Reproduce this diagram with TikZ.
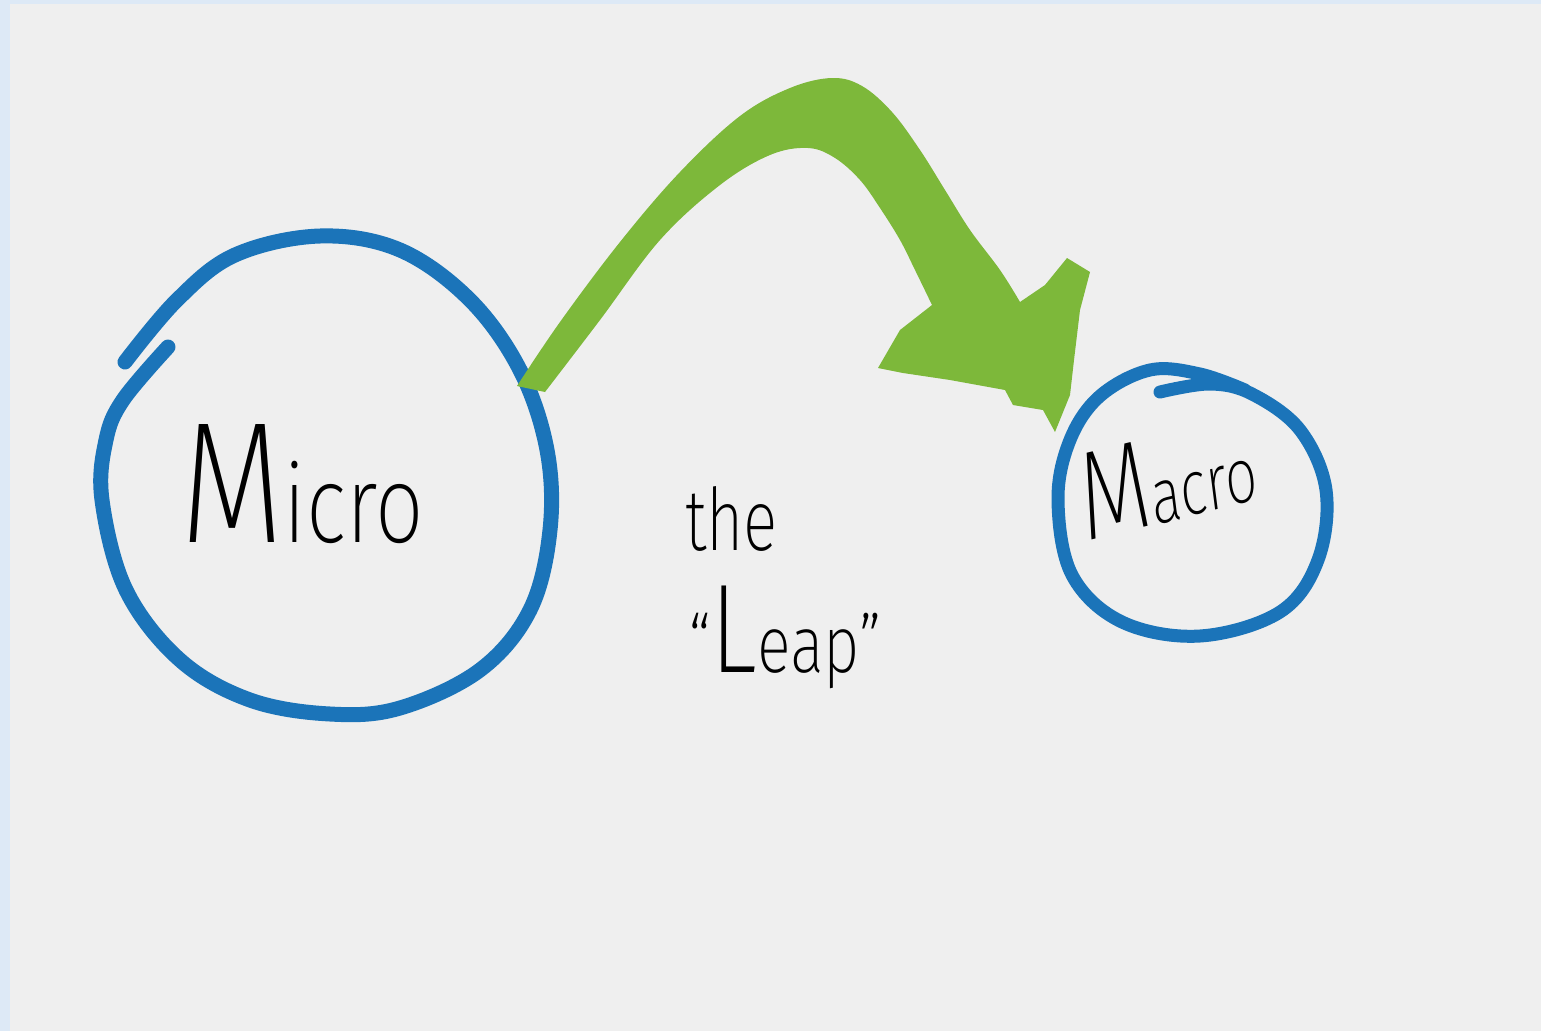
\documentclass[tikz,border=0pt]{standalone}
\usepackage{fontspec}
\newfontfamily\handfont{Fira Sans ExtraLight}
\begin{document}
\begin{tikzpicture}[x=1pt,y=-1pt,
  paint/.style={line width=15pt,line cap=round,line join=round,draw=circblue},
  hand/.style={inner sep=0pt,text=black,anchor=base west}]
\definecolor{circblue}{HTML}{1B74B9}
\definecolor{leafgreen}{HTML}{7DB83A}
\definecolor{paper}{HTML}{EFEFEF}
\definecolor{frame}{HTML}{DDE9F6}
\newcommand\fsz[1]{\fontsize{#1}{#1}\selectfont}
\useasboundingbox (0,0) rectangle (1541,1031);
\fill[frame] (0,0) rectangle (1541,1031);
\fill[paper] (10,4) rectangle (1541,1031);
% Micro circle
\draw[paint] plot[smooth,tension=0.6] coordinates {(125,362) (177,300) (235,255) (320,236) (400,250) (470,300) (520,370) (547,450) (550,530) (530,610) (480,670) (400,708) (330,714) (250,700) (180,660) (126,590) (102,500) (106,440) (123,400) (168,347)};
% Macro circle
\draw[paint,line width=13pt] plot[smooth,tension=0.6] coordinates {(1160,392) (1210,384) (1252,394) (1300,430) (1326,490) (1318,560) (1280,612) (1200,636) (1122,622) (1072,575) (1058,500) (1070,440) (1100,396) (1150,370) (1200,374) (1245,390)};
% green arrow
\fill[leafgreen] plot[smooth,tension=0.6] coordinates {(517,386) (560,322) (620,242) (680,172) (740,116) (790,88) (832,78) (862,86) (892,112) (920,150) (945,190) (970,230) (1000,270) (1020,302)}
  -- (1045,285) -- (1067,258) -- (1090,272) -- (1080,310) -- (1074,360) -- (1070,395) -- (1055,432)
  -- (1043,410) -- (1013,405) -- (1005,390) -- (950,380) -- (903,373) -- (878,368) -- (900,330)
  -- plot[smooth,tension=0.6] coordinates {(932,305) (915,270) (900,240) (880,208) (860,180) (835,158) (808,148) (770,155) (720,185) (660,240) (600,320) (545,392)} -- cycle;
% texts
\node[hand,xscale=0.9,yscale=1.15] (micro) at (180,542) {\handfont{\fsz{150}M}{\fsz{95}icro}};
\node[hand,xscale=0.83,yscale=1.15,rotate=10] (macro) at (1085,542) {\handfont{\fsz{110}M}{\fsz{68}acro}};
\node[hand,xscale=1,yscale=1.35] (the) at (685,550) {\handfont\fsz{64}the};
\node[hand,xscale=0.9,yscale=1.15] (leap) at (688,672) {\handfont{\fsz{70}“}{\fsz{110}L}{\fsz{70}eap”}};
\end{tikzpicture}
\end{document}
